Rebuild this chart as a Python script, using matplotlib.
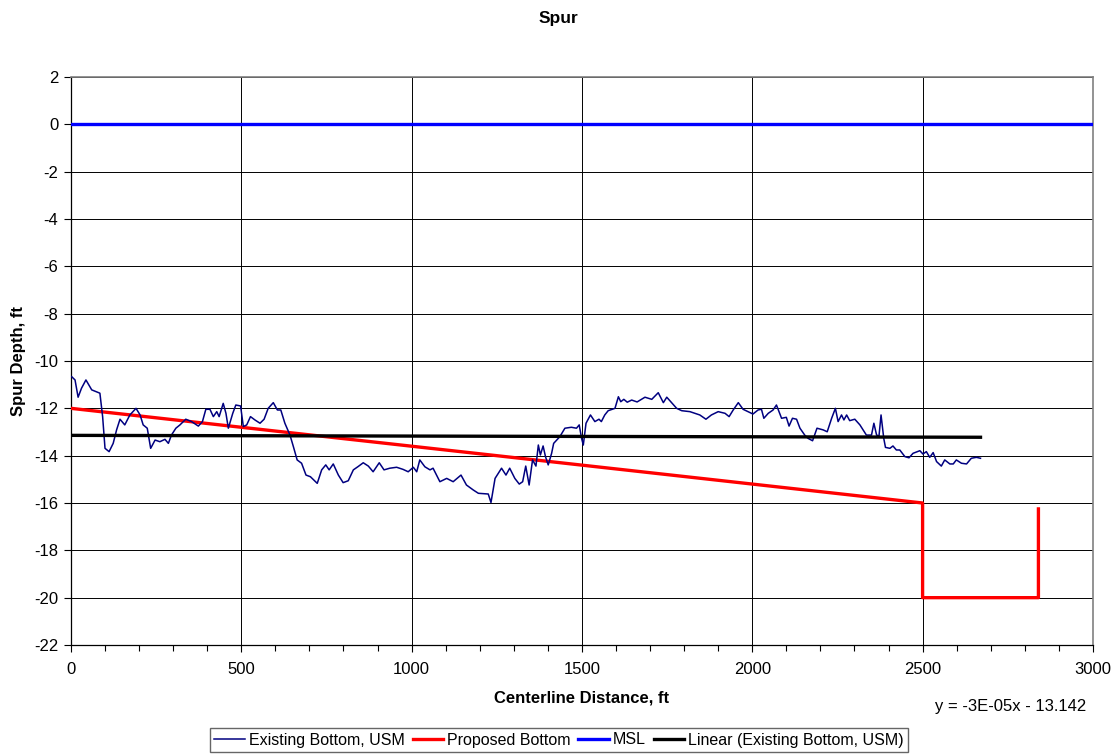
import matplotlib; matplotlib.use("Agg")
import matplotlib.pyplot as plt
from matplotlib.ticker import MultipleLocator

plt.rcParams["font.family"] = ["Liberation Sans", "DejaVu Sans"]
plt.rcParams["axes.unicode_minus"] = False

# existing bottom (USM survey)
exist_x = [2, 12, 21, 31, 44, 61, 75, 85, 93, 100, 112, 124, 134, 144, 158, 173, 191, 203,
           212, 224, 234, 247, 261, 276, 286, 295, 308, 320, 337, 354, 374, 386, 396, 408,
           418, 428, 435, 447, 455, 462, 475, 484, 498, 506, 516, 527, 540, 555, 567, 579,
           594, 606, 616, 628, 643, 653, 664, 677, 690, 703, 723, 736, 748, 758, 770, 785,
           799, 814, 829, 843, 858, 873, 887, 905, 919, 936, 956, 975, 990, 1005, 1015, 1024,
           1039, 1054, 1063, 1083, 1103, 1122, 1145, 1161, 1181, 1196, 1225, 1233, 1245, 1264,
           1277, 1288, 1303, 1316, 1326, 1335, 1345, 1355, 1365, 1372, 1378, 1386, 1393, 1401,
           1411, 1417, 1435, 1450, 1469, 1484, 1492, 1499, 1504, 1512, 1525, 1538, 1550, 1557,
           1567, 1577, 1597, 1607, 1614, 1623, 1633, 1646, 1662, 1685, 1705, 1724, 1739, 1749,
           1763, 1778, 1793, 1817, 1846, 1864, 1880, 1900, 1920, 1932, 1944, 1959, 1973, 2002,
           2017, 2027, 2034, 2047, 2061, 2071, 2086, 2100, 2108, 2118, 2130, 2140, 2154, 2164,
           2177, 2190, 2208, 2220, 2233, 2244, 2252, 2262, 2269, 2277, 2286, 2301, 2316, 2335,
           2350, 2357, 2365, 2372, 2378, 2386, 2391, 2404, 2413, 2423, 2433, 2448, 2460, 2472,
           2492, 2501, 2511, 2521, 2531, 2541, 2555, 2565, 2580, 2590, 2599, 2614, 2629, 2643,
           2658, 2670]
exist_y = [-10.66, -10.80, -11.53, -11.15, -10.80, -11.22, -11.30, -11.36, -12.35, -13.69,
           -13.83, -13.48, -12.91, -12.46, -12.70, -12.28, -12.00, -12.28, -12.70, -12.84,
           -13.69, -13.34, -13.41, -13.31, -13.48, -13.13, -12.84, -12.70, -12.46, -12.56,
           -12.75, -12.56, -12.04, -12.04, -12.35, -12.14, -12.35, -11.79, -12.21, -12.84,
           -12.21, -11.86, -11.90, -12.77, -12.70, -12.35, -12.49, -12.63, -12.46, -12.00,
           -11.76, -12.07, -12.07, -12.63, -13.13, -13.62, -14.18, -14.32, -14.82, -14.89,
           -15.17, -14.60, -14.39, -14.60, -14.35, -14.82, -15.14, -15.06, -14.60, -14.46,
           -14.30, -14.44, -14.68, -14.30, -14.60, -14.53, -14.49, -14.58, -14.68, -14.49,
           -14.68, -14.18, -14.47, -14.60, -14.53, -15.10, -14.96, -15.10, -14.82, -15.24,
           -15.45, -15.59, -15.62, -15.98, -14.96, -14.53, -14.82, -14.53, -14.96, -15.20,
           -15.10, -14.44, -15.24, -14.18, -14.44, -13.55, -13.97, -13.59, -14.04, -14.39,
           -13.90, -13.48, -13.20, -12.84, -12.80, -12.84, -12.70, -13.27, -13.55, -12.63,
           -12.28, -12.56, -12.46, -12.56, -12.28, -12.10, -12.00, -11.51, -11.72, -11.62,
           -11.74, -11.65, -11.73, -11.53, -11.62, -11.34, -11.76, -11.53, -11.76, -12.00,
           -12.10, -12.14, -12.28, -12.46, -12.28, -12.14, -12.21, -12.35, -12.07, -11.76,
           -12.04, -12.24, -12.07, -12.04, -12.42, -12.21, -12.07, -11.86, -12.42, -12.38,
           -12.75, -12.42, -12.46, -12.84, -13.13, -13.27, -13.37, -12.84, -12.91, -12.99,
           -12.42, -12.00, -12.56, -12.28, -12.49, -12.28, -12.52, -12.46, -12.70, -13.13,
           -13.13, -12.63, -13.13, -13.17, -12.28, -13.27, -13.65, -13.69, -13.59, -13.76,
           -13.76, -14.04, -14.09, -13.90, -13.79, -13.93, -13.83, -14.07, -13.87, -14.25,
           -14.44, -14.18, -14.35, -14.35, -14.18, -14.32, -14.35, -14.11, -14.07, -14.11]

proposed_x = [0, 2500, 2500, 2840, 2840]
proposed_y = [-12, -16, -20, -20, -16.25]

msl_x = [0, 3000]
msl_y = [0, 0]

# Excel linear trendline shown on chart: y = -3E-05x - 13.142
TREND_SLOPE = -3e-05
TREND_INTERCEPT = -13.142


def main():
    fig = plt.figure(figsize=(11.19, 7.55), dpi=100)
    ax = fig.add_axes([0.0634, 0.1457, 0.9133, 0.7523])

    ax.plot(exist_x, exist_y, color="#000080", lw=1.1, label="Existing Bottom, USM", zorder=4)
    ax.plot(proposed_x, proposed_y, color="#ff0000", lw=2.4, label="Proposed Bottom", zorder=3)
    ax.plot(msl_x, msl_y, color="#0000ff", lw=2.4, label="MSL", zorder=3)
    tx = [0, exist_x[-1]]
    ty = [TREND_SLOPE * v + TREND_INTERCEPT for v in tx]
    ax.plot(tx, ty, color="black", lw=2.4, label="Linear (Existing Bottom, USM)", zorder=5)

    ax.set_xlim(0, 3000); ax.set_ylim(-22, 2)
    ax.xaxis.set_major_locator(MultipleLocator(500))
    ax.xaxis.set_minor_locator(MultipleLocator(100))
    ax.yaxis.set_major_locator(MultipleLocator(2))
    ax.grid(True, which="major", color="black", lw=0.7)
    ax.tick_params(axis="both", which="major", direction="out", length=5, labelsize=12, width=0.8)
    ax.tick_params(axis="x", which="minor", direction="out", length=4, width=0.8)
    ax.tick_params(axis="x", pad=7)
    ax.tick_params(axis="y", pad=4)
    for side in ("left", "bottom"):
        ax.spines[side].set_color("black"); ax.spines[side].set_linewidth(0.9)
    for side in ("top", "right"):
        ax.spines[side].set_color("#808080"); ax.spines[side].set_linewidth(1.2)

    fig.text(558 / 1119, 1 - 18 / 755, "Spur", ha="center", va="center",
             fontsize=12.5, fontweight="bold")
    ax.set_xlabel("Centerline Distance, ft", fontsize=12, fontweight="bold", labelpad=10)
    ax.set_ylabel("Spur Depth, ft", fontsize=12, fontweight="bold", labelpad=6)

    fig.text(1086 / 1119, 1 - 706 / 755, "y = -3E-05x - 13.142", ha="right", va="center",
             fontsize=12)

    leg = fig.legend(loc="center", bbox_to_anchor=(559 / 1119, 1 - 740 / 755), ncol=4,
                     fontsize=11.5, frameon=True, fancybox=False, edgecolor="#404040",
                     handlelength=1.9, handletextpad=0.25, columnspacing=0.5,
                     borderpad=0.3, borderaxespad=0)
    leg.get_frame().set_linewidth(1.0)

    fig.savefig("out.png", dpi=100)


if __name__ == "__main__":
    main()
